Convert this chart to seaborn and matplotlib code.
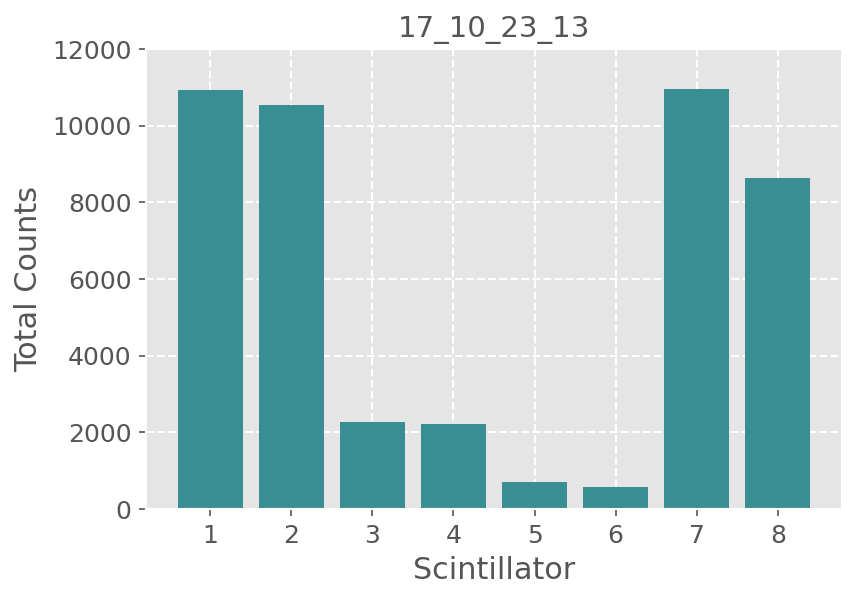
import matplotlib
matplotlib.use("Agg")
import matplotlib.pyplot as plt
import pandas as pd
import seaborn as sns

scintillators = ["1", "2", "3", "4", "5", "6", "7", "8"]
total_counts = [10930, 10540, 2270, 2220, 705, 575, 10955, 8635]
run_name = "17_10_23_13"

plt.style.use("ggplot")
plt.rcParams["grid.linestyle"] = "--"
plt.rcParams["grid.linewidth"] = 1.0

df = pd.DataFrame({"scintillator": scintillators, "counts": total_counts})

fig, ax = plt.subplots(figsize=(5.72, 4.007), dpi=150)
sns.barplot(data=df, x="scintillator", y="counts", color="#388E93", saturation=1, width=0.8, ax=ax)
ax.set_xlim(-0.79, 7.79)
ax.set_ylim(0, 12000)
ax.set_axisbelow(True)
ax.grid(True, linestyle="--", color="white")
ax.set_title(run_name, fontsize=14, color="#555555")
ax.set_xlabel("Scintillator", fontsize=14.5)
ax.set_ylabel("Total Counts", fontsize=14.5)
ax.tick_params(labelsize=12)
fig.subplots_adjust(left=146 / 858, right=842 / 858, top=1 - 49 / 601, bottom=1 - 509 / 601)
fig.savefig("out.png", dpi=150)
